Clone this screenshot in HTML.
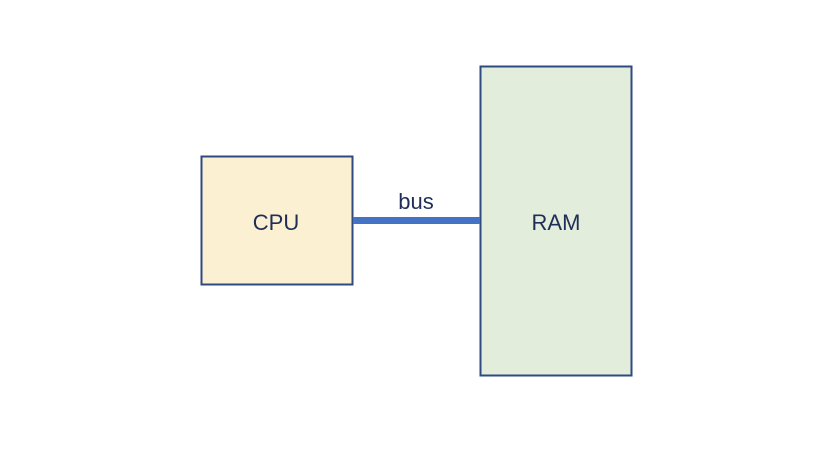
<!DOCTYPE html>
<html><head><meta charset="utf-8"><style>
html,body{margin:0;padding:0;background:#fff;}
</style></head><body>
<svg width="826" height="450" xmlns="http://www.w3.org/2000/svg" style="display:block">
<rect x="0" y="0" width="826" height="450" fill="#fff"/>
<rect x="201.5" y="156.5" width="151" height="128" fill="#FBF1D2" stroke="#2F4A7F" stroke-width="2"/>
<rect x="480.5" y="66.5" width="151" height="309" fill="#E3EDDB" stroke="#2F4A7F" stroke-width="2"/>
<line x1="353" y1="220.5" x2="480" y2="220.5" stroke="#4472C4" stroke-width="7"/>
<text x="276" y="230" font-family="Liberation Sans, sans-serif" font-size="22" fill="#1F2D57" text-anchor="middle">CPU</text>
<text x="556" y="230" font-family="Liberation Sans, sans-serif" font-size="22" fill="#1F2D57" text-anchor="middle">RAM</text>
<text x="416" y="209" font-family="Liberation Sans, sans-serif" font-size="22" fill="#1F2D57" text-anchor="middle">bus</text>
</svg>
</body></html>
